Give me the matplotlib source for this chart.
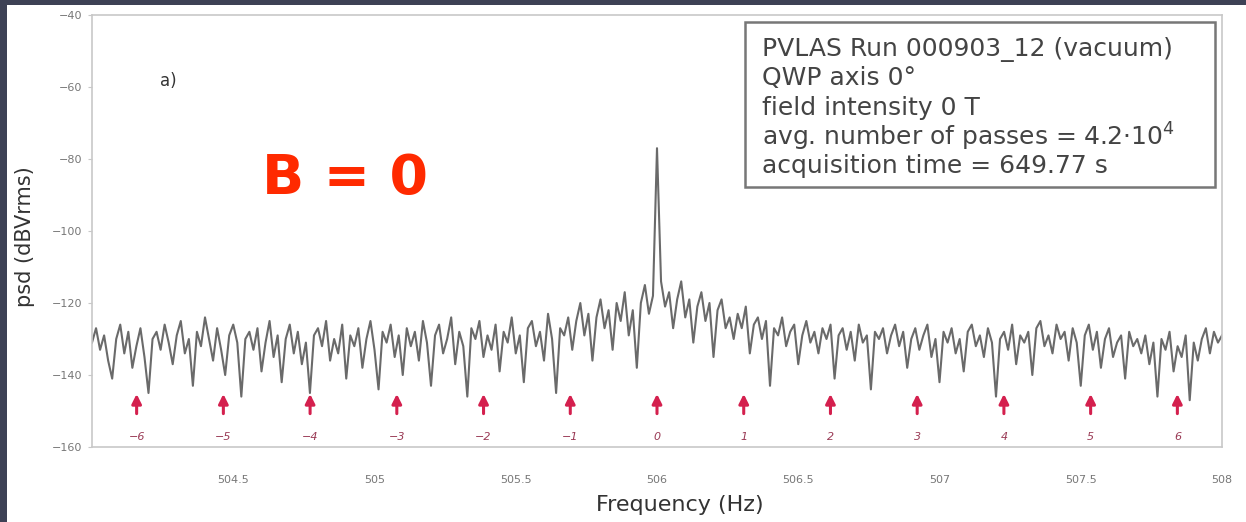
import matplotlib.pyplot as plt
import matplotlib.patches as patches
import numpy as np

# spectrum (dBVrms), 281 bins from 504 to 508 Hz
psd = [
    -131, -127, -133, -129, -136, -141, -130, -126, -134, -128, -138, -132, -127, -135, -145, -130, -128, -133, -126, -131,
    -137, -129, -125, -134, -130, -143, -128, -132, -124, -130, -136, -127, -133, -140, -129, -126, -131, -146, -130, -128,
    -133, -127, -139, -131, -125, -135, -129, -142, -130, -126, -134, -128, -137, -131, -145, -129, -127, -132, -125, -136,
    -130, -134, -126, -141, -129, -132, -127, -138, -130, -125, -133, -144, -128, -131, -126, -135, -129, -140, -127, -132,
    -128, -136, -125, -131, -143, -129, -126, -134, -130, -124, -137, -128, -132, -146, -127, -130, -125, -135, -129, -133,
    -126, -139, -128, -131, -124, -134, -129, -142, -127, -125, -132, -128, -136, -123, -130, -145, -127, -129, -124, -133,
    -125, -120, -129, -123, -136, -124, -119, -127, -122, -133, -120, -125, -117, -129, -122, -138, -120, -115, -123, -118,
    -77, -114, -121, -117, -127, -119, -114, -124, -119, -131, -121, -117, -125, -120, -135, -122, -119, -127, -124, -130,
    -123, -127, -121, -134, -126, -124, -130, -125, -143, -127, -129, -124, -132, -128, -126, -137, -129, -125, -131, -128,
    -134, -127, -130, -126, -141, -129, -127, -133, -128, -136, -126, -131, -129, -144, -128, -130, -127, -134, -129, -126,
    -132, -128, -138, -130, -127, -133, -129, -126, -135, -130, -142, -128, -131, -127, -134, -130, -139, -128, -126, -132,
    -129, -135, -127, -131, -146, -130, -128, -133, -126, -137, -129, -131, -128, -140, -127, -125, -132, -129, -134, -126,
    -130, -128, -136, -127, -131, -143, -129, -126, -133, -128, -138, -130, -127, -135, -131, -129, -141, -128, -132, -130,
    -134, -129, -137, -131, -146, -130, -133, -128, -139, -132, -135, -129, -147, -131, -136, -130, -127, -134, -128, -131,
    -129,
]
freqStart, freqStop = 504.0, 508.0
freqs = np.linspace(freqStart, freqStop, len(psd))

# sideband orders marked with red arrows
carrier = 506.0
sidebandSpacing = 0.307
orders = [-6, -5, -4, -3, -2, -1, 0, 1, 2, 3, 4, 5, 6]

xTicks = [504.5, 505, 505.5, 506, 506.5, 507, 507.5, 508]
xTickLabels = ["504.5", "505", "505.5", "506", "506.5", "507", "507.5", "508"]
yTicks = [-160, -140, -120, -100, -80, -60, -40]

infoLines = [
    "PVLAS Run 000903_12 (vacuum)",
    "QWP axis 0\u00b0",
    "field intensity 0 T",
    "avg. number of passes = 4.2\u00b710$^4$",
    "acquisition time = 649.77 s",
]

W, H = 1246, 522
fig = plt.figure(figsize=(W / 100, H / 100), dpi=100)
ax = fig.add_axes([92 / W, 1 - 447 / H, 1130 / W, 432 / H])

ax.plot(freqs, psd, color="#5a5a5a", lw=1.5, alpha=0.9)

for k in orders:
    f = carrier + k * sidebandSpacing
    ax.annotate("", xy=(f, -144.5), xytext=(f, -151.5),
                arrowprops=dict(arrowstyle="-|>", color="#d4204e", lw=2.2,
                                mutation_scale=14))
    ax.text(f, -157.3, f"{k}" if k >= 0 else f"\u2212{-k}", ha="center", va="center",
            fontsize=8, color="#9a3a55", style="italic")

ax.set_xlim(freqStart, freqStop)
ax.set_ylim(-160, -40)
ax.set_xticks(xTicks)
ax.set_xticklabels(xTickLabels)
ax.set_yticks(yTicks)
ax.set_yticklabels([f"\u2212{-v}" for v in yTicks])
ax.tick_params(axis="x", length=0, pad=20, labelsize=8, labelcolor="#777777")
ax.tick_params(axis="y", length=3, color="#c8c8c8", pad=4, labelsize=8, labelcolor="#777777")
for s in ax.spines.values():
    s.set_color("#c8c8c8")
    s.set_linewidth(1.2)

# info box, one text per line so the spacing stays even
fig.patches.append(patches.Rectangle((745 / W, 1 - 187 / H), 470 / W, 165 / H,
                                     transform=fig.transFigure, facecolor="white",
                                     edgecolor="#777777", lw=1.8, zorder=3))
for i, line in enumerate(infoLines):
    fig.text(762 / W, 1 - (49 + i * 29.3) / H, line, ha="left", va="center",
             fontsize=18, color="#444444", zorder=4)

ax.text(0.06, 0.835, "a)", transform=ax.transAxes, fontsize=12, color="#333333")
ax.text(0.224, 0.62, "B = 0", transform=ax.transAxes, ha="center", va="center",
        fontsize=40, fontweight="bold", color="#ff2a00")

fig.text(25 / W, 1 - 237 / H, "psd (dBVrms)", rotation=90, ha="center", va="center",
         fontsize=15, color="#333333")
fig.text(680 / W, 1 - 505 / H, "Frequency (Hz)", ha="center", va="center",
         fontsize=16, color="#333333")

# dark slide border on the left and top
fig.patches.append(patches.Rectangle((0, 0), 7 / W, 1, transform=fig.transFigure,
                                     facecolor="#3d4155", edgecolor="none"))
fig.patches.append(patches.Rectangle((0, 1 - 5 / H), 1, 5 / H, transform=fig.transFigure,
                                     facecolor="#3d4155", edgecolor="none"))

fig.savefig("out.png", dpi=100)
